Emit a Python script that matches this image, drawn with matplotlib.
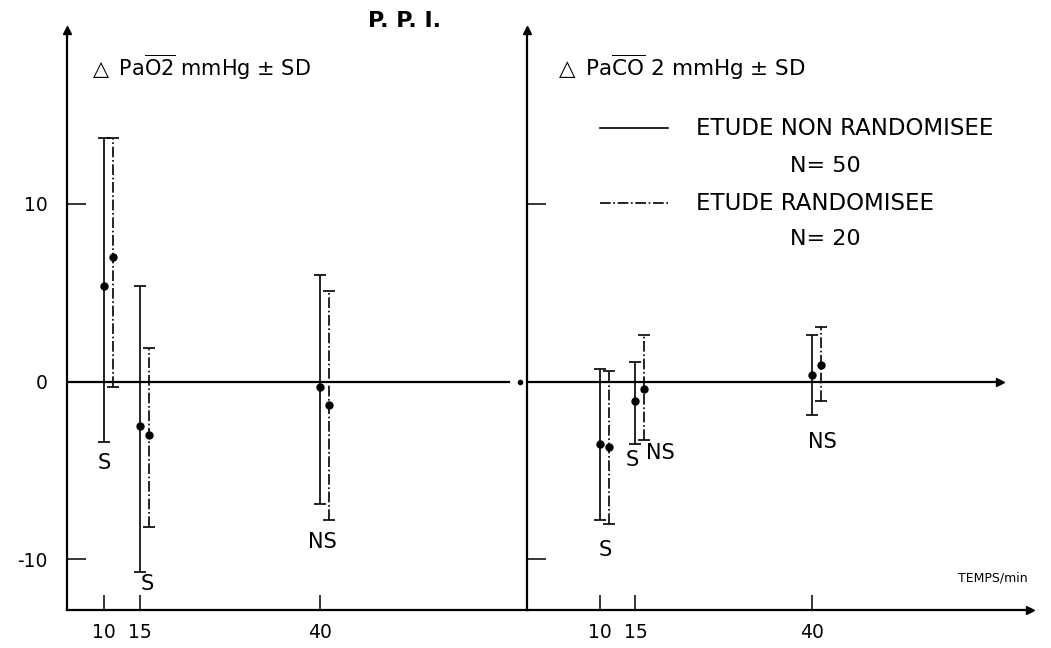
import matplotlib
matplotlib.use('Agg')
import matplotlib.pyplot as plt

plt.rcParams['font.family'] = ['DejaVu Sans']
plt.rcParams['mathtext.default'] = 'regular'

# temps (min)
temps = [10, 15, 40]
decal = 1.2  # decalage de la serie randomisee

# delta PaO2 (mmHg) - etude non randomisee (N=50)
pao2_nr = [5.4, -2.5, -0.3]
pao2_nr_bas = [-3.4, -10.7, -6.9]
pao2_nr_haut = [13.7, 5.4, 6.0]
# delta PaO2 - etude randomisee (N=20)
pao2_r = [7.0, -3.0, -1.3]
pao2_r_bas = [-0.3, -8.2, -7.8]
pao2_r_haut = [13.7, 1.9, 5.1]

# delta PaCO2 (mmHg)
paco2_nr = [-3.5, -1.1, 0.35]
paco2_nr_bas = [-7.8, -3.5, -1.9]
paco2_nr_haut = [0.7, 1.1, 2.6]
paco2_r = [-3.7, -0.4, 0.95]
paco2_r_bas = [-8.0, -3.3, -1.1]
paco2_r_haut = [0.6, 2.6, 3.1]

# significativite: (temps, valeur, texte)
sig_pao2 = [(10, -4.6, 'S'), (16.0, -11.4, 'S'), (40.3, -9.0, 'NS')]
sig_paco2 = [(10.7, -9.5, 'S'), (14.5, -4.4, 'S'), (18.5, -4.0, 'NS'), (41.4, -3.4, 'NS')]

ylim = (-12.85, 19.8)

fig = plt.figure(figsize=(10.51, 6.48), dpi=100)
ax1 = fig.add_axes([0.0637, 0.0586, 0.4377, 0.8954])
ax2 = fig.add_axes([0.5014, 0.0586, 0.4786, 0.8954])
ax1.set_xlim(4.86, 68.75)
ax2.set_xlim(-0.33, 70.8)


def serie(ax, x, m, bas, haut, ls):
    err = [[a - b for a, b in zip(m, bas)], [h - a for a, h in zip(m, haut)]]
    eb = ax.errorbar(x, m, yerr=err, fmt='o', color='k', ms=5, lw=1.2,
                     capsize=4, capthick=1.2, elinewidth=1.2)
    eb[2][0].set_linestyle(ls)


for ax in (ax1, ax2):
    ax.set_ylim(*ylim)
    ax.spines['top'].set_visible(False)
    ax.spines['right'].set_visible(False)
    ax.spines['left'].set_linewidth(1.6)
    ax.spines['bottom'].set_linewidth(1.6)
    ax.set_xticks(temps)
    ax.set_xticklabels([str(t) for t in temps], fontsize=13.5)
    ax.tick_params(axis='x', direction='in', length=11, width=1.1, pad=9)
    ax.tick_params(axis='y', direction='in', length=14, width=1.1, labelsize=13.5)
    ax.plot(0, 1, marker='^', color='k', ms=6, transform=ax.transAxes, clip_on=False)

ax1.set_yticks([-10, 0, 10])
ax1.set_yticklabels(['-10', '0', '10'])
ax1.tick_params(axis='y', pad=14)
ax2.set_yticks([-10, 10])
ax2.set_yticklabels([])

ax1.axhline(0, xmin=0, xmax=0.962, color='k', lw=1.6)
ax1.plot(0.985, 0, marker='o', color='k', ms=3, transform=ax1.get_yaxis_transform(), clip_on=False)
ax2.axhline(0, xmin=0, xmax=0.94, color='k', lw=1.6)
ax2.plot(0.94, 0, marker='>', color='k', ms=6, transform=ax2.get_yaxis_transform(), clip_on=False)
ax2.plot(1.0, 0, marker='>', color='k', ms=6, transform=ax2.transAxes, clip_on=False)

serie(ax1, temps, pao2_nr, pao2_nr_bas, pao2_nr_haut, '-')
serie(ax1, [t + decal for t in temps], pao2_r, pao2_r_bas, pao2_r_haut, '-.')
serie(ax2, temps, paco2_nr, paco2_nr_bas, paco2_nr_haut, '-')
serie(ax2, [t + decal for t in temps], paco2_r, paco2_r_bas, paco2_r_haut, '-.')

for x, y, s in sig_pao2:
    ax1.text(x, y, s, ha='center', va='center', fontsize=15)
for x, y, s in sig_paco2:
    ax2.text(x, y, s, ha='center', va='center', fontsize=15)

ax1.text(0.046, 0.935, r'$\triangle$ Pa$\overline{O2}$ mmHg $\pm$ SD', transform=ax1.transAxes,
         fontsize=15, va='center')
ax2.text(0.053, 0.935, r'$\triangle$ Pa$\overline{CO}$ 2 mmHg $\pm$ SD', transform=ax2.transAxes,
         fontsize=15.5, va='center')
fig.text(0.385, 0.968, 'P. P. I.', fontsize=16, fontweight='bold', ha='center', va='center')

# legende
ax2.plot([0.145, 0.28], [0.83, 0.83], color='k', lw=1.2, transform=ax2.transAxes)
ax2.text(0.337, 0.83, 'ETUDE NON RANDOMISEE', transform=ax2.transAxes, fontsize=16.5, va='center')
ax2.text(0.522, 0.765, 'N= 50', transform=ax2.transAxes, fontsize=16, va='center')
ax2.plot([0.145, 0.28], [0.701, 0.701], color='k', lw=1.2, ls='-.', transform=ax2.transAxes)
ax2.text(0.337, 0.701, 'ETUDE RANDOMISEE', transform=ax2.transAxes, fontsize=16.5, va='center')
ax2.text(0.522, 0.64, 'N= 20', transform=ax2.transAxes, fontsize=16, va='center')

ax2.text(0.995, 0.055, 'TEMPS/min', transform=ax2.transAxes, fontsize=9, ha='right', va='center')

fig.savefig('out.png', dpi=100)
